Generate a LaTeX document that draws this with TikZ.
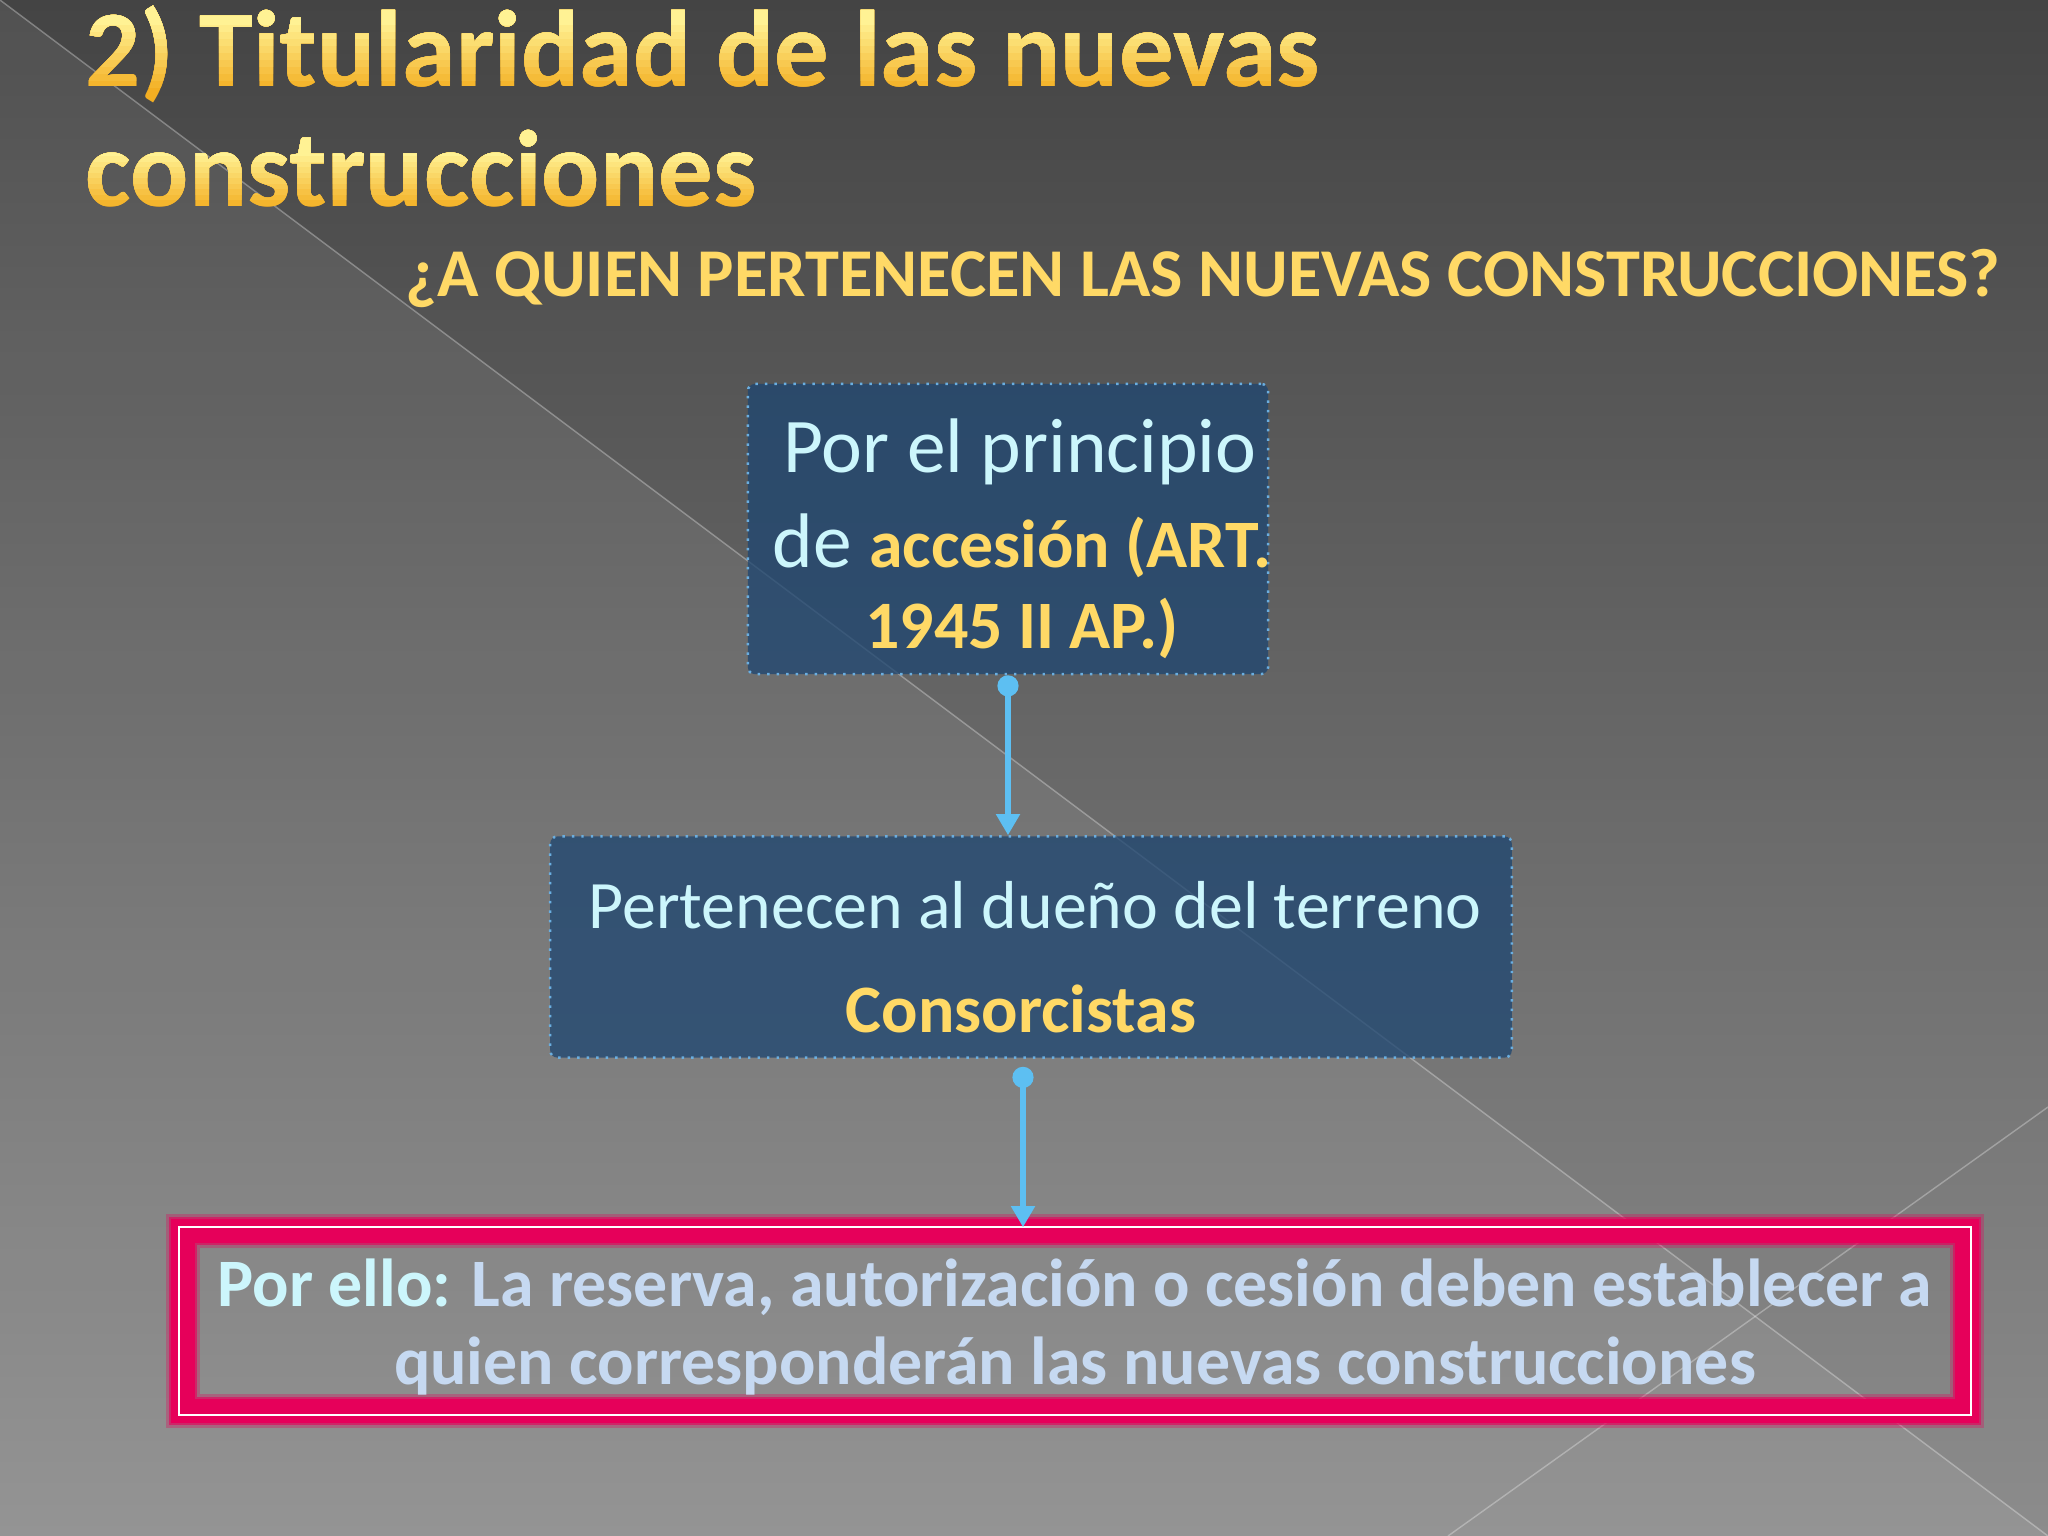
\documentclass[tikz,border=0pt]{standalone}
\usepackage{fontspec}
\setmainfont{Carlito}
\usepackage{tikz}
\usetikzlibrary{positioning}
\usetikzlibrary{calc}
\usetikzlibrary{arrows.meta}
\definecolor{bgtop}{HTML}{444444}
\definecolor{bgbot}{HTML}{8C8C8C}
\definecolor{titorange}{HTML}{F3AE22}
\definecolor{titpale}{HTML}{FFF294}
\definecolor{gold}{HTML}{FFD966}
\definecolor{ice}{HTML}{CCF6FC}
\definecolor{lav}{HTML}{C6D9F1}
\definecolor{boxfill}{HTML}{1E4671}
\definecolor{boxline}{HTML}{6AAEE0}
\definecolor{sky}{HTML}{5DBFF2}
\definecolor{crimson}{HTML}{E6005A}
\tikzset{every picture/.style={x=0.01cm,y=-0.01cm},
  titletext/.style={inner sep=0pt,anchor=base west,font=\fontsize{30.9pt}{36pt}\selectfont\bfseries},
  subtext/.style={inner sep=0pt,text=gold,font=\fontsize{19.45pt}{23pt}\selectfont\bfseries},
  blue box/.style={draw=boxline,dotted,line width=0.7pt,fill=boxfill,fill opacity=0.76,rounded corners=2pt},
  bigline/.style={inner sep=0pt,anchor=base,font=\fontsize{22pt}{26pt}\selectfont},
  midline/.style={inner sep=0pt,anchor=base,font=\fontsize{19.3pt}{23pt}\selectfont},
  resline/.style={midline,text=lav,font=\fontsize{19.3pt}{23pt}\selectfont\bfseries},
  glow box/.style={
    preaction={draw=crimson,line width=9.6pt,draw opacity=0.3},
    preaction={draw=crimson,line width=8.2pt,draw opacity=0.6},
    preaction={draw=crimson,line width=7pt}},
  link/.style={sky,line width=1.6pt,{Circle[length=6pt]}-{Triangle[length=6pt,width=6.5pt]}}}

\begin{document}
\begin{tikzpicture}
\useasboundingbox (0,0) rectangle (2048,1536);
% background
\shade[top color=bgtop,bottom color=bgbot] (0,0) rectangle (2048,1536);
\fill[white,opacity=0.07] (0,0) -- (2048,1536) -- (0,1536) -- cycle;
\draw[white,opacity=0.3,line width=0.4pt] (0,0) -- (2048,1536);
\draw[white,opacity=0.3,line width=0.4pt] (2048,1107) -- (1448,1536);

% title, pale on top and orange below
\node (t1) [titletext,text=titorange] at (85,86) {2) Titularidad de las nuevas};
\node (t2) [titletext,text=titorange] at (85,206) {construcciones};
\foreach \i in {9,...,0} {
  \pgfmathtruncatemacro{\mix}{10*\i}
  \begin{scope}
    \clip (0,-20) rectangle (1400,{17+7*(\i+1)});
    \node (t1-\i) [titletext,text=titorange!\mix!titpale] at (85,86) {2) Titularidad de las nuevas};
  \end{scope}
  \begin{scope}
    \clip (0,110) rectangle (1400,{150+5.5*(\i+1)});
    \node (t2-\i) [titletext,text=titorange!\mix!titpale] at (85,206) {construcciones};
  \end{scope}
}
\node (q) [subtext,anchor=base east] at (2001,296) {¿A QUIEN PERTENECEN LAS NUEVAS CONSTRUCCIONES?};

% boxes
\node (acc) [blue box,minimum width=5.2cm,minimum height=2.9cm] at (1008,529) {};
\node (duen) [blue box,minimum width=9.61cm,minimum height=2.21cm] at (1031,947) {};
\node (res) [glow box,minimum width=17.83cm,minimum height=1.80cm] at (1075,1321) {};
\draw[white,line width=0.6pt] ($(res.north west)+(-3,-3)$) rectangle ($(res.south east)+(3,3)$);

\node (a1) [bigline,text=ice] at (1020,472) {Por el principio};
\node (a2) [bigline,text=ice] at (1022,567) {de \textcolor{gold}{\fontsize{19.3pt}{23pt}\selectfont\bfseries accesión (ART.}};
\node (a3) [midline,text=gold] at (1022,648) {\bfseries 1945 II AP.)};

\node (d1) [midline,text=ice] at (1035,928) {Pertenecen al dueño del terreno};
\node (d2) [midline,text=gold] at (1021,1032) {\bfseries Consorcistas};

\node (r1) [resline] at (1075,1306) {\textcolor{ice}{Por ello:} La reserva, autorización o cesión deben establecer a};
\node (r2) [resline] at (1075,1384) {quien corresponderán las nuevas construcciones};

% connectors
\draw[link] (acc.south) -- (acc.south |- duen.north);
\coordinate (s2) at ($(duen.south)+(-8,8)$);
\draw[link] (s2) -- ($(s2 |- res.north)+(0,-3)$);
\end{tikzpicture}
\end{document}
